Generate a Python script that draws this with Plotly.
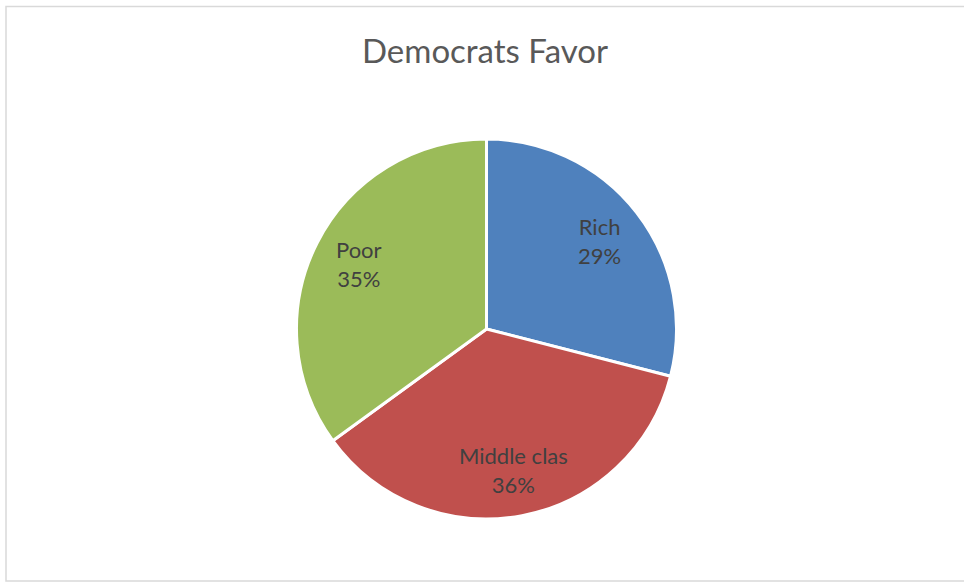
import math
import plotly.graph_objects as go

labels = ["Rich", "Middle clas", "Poor"]
values = [29, 36, 35]
colors = ["#4F81BD", "#C0504D", "#9BBB59"]
title_text = "Democrats Favor"

W, H = 964, 582
cx, cy, r = 486.5, 329, 190
label_frac = 0.755

fig = go.Figure(go.Pie(
    labels=labels,
    values=values,
    sort=False,
    direction="clockwise",
    rotation=0,
    marker=dict(colors=colors, line=dict(color="white", width=3)),
    textinfo="none",
    hoverinfo="label+percent",
    showlegend=False,
    domain=dict(x=[(cx - r) / W, (cx + r) / W], y=[(H - cy - r) / H, (H - cy + r) / H]),
))

# data labels positioned at the middle angle of each slice
total = sum(values)
annotations = []
cum = 0.0
for lab, v in zip(labels, values):
    mid = (cum + v / 2) / total * 2 * math.pi
    cum += v
    px = cx + label_frac * r * math.sin(mid)
    py = cy - label_frac * r * math.cos(mid)
    annotations.append(dict(
        x=px / W, y=1 - py / H, xref="paper", yref="paper",
        text=f"{lab}<br>{round(v / total * 100)}%",
        showarrow=False, xanchor="center", yanchor="middle",
        font=dict(family="Lato", size=22, color="#404040"),
    ))

fig.update_layout(
    width=W, height=H,
    margin=dict(l=0, r=0, t=0, b=0),
    paper_bgcolor="white",
    plot_bgcolor="white",
    title=dict(text=title_text, x=485 / W, xanchor="center", y=1 - 51 / H, yanchor="middle",
               font=dict(family="Lato", size=33, color="#595959")),
    annotations=annotations,
    shapes=[dict(type="rect", xref="paper", yref="paper",
                 x0=6 / W, x1=1.02, y0=1 / H, y1=1 - 6.5 / H,
                 line=dict(color="#D9D9D9", width=1.5), fillcolor="rgba(0,0,0,0)")],
)

fig.write_html("out.html", config={"displayModeBar": False},
               post_script="document.body.style.margin='0';document.body.style.overflow='hidden';")
